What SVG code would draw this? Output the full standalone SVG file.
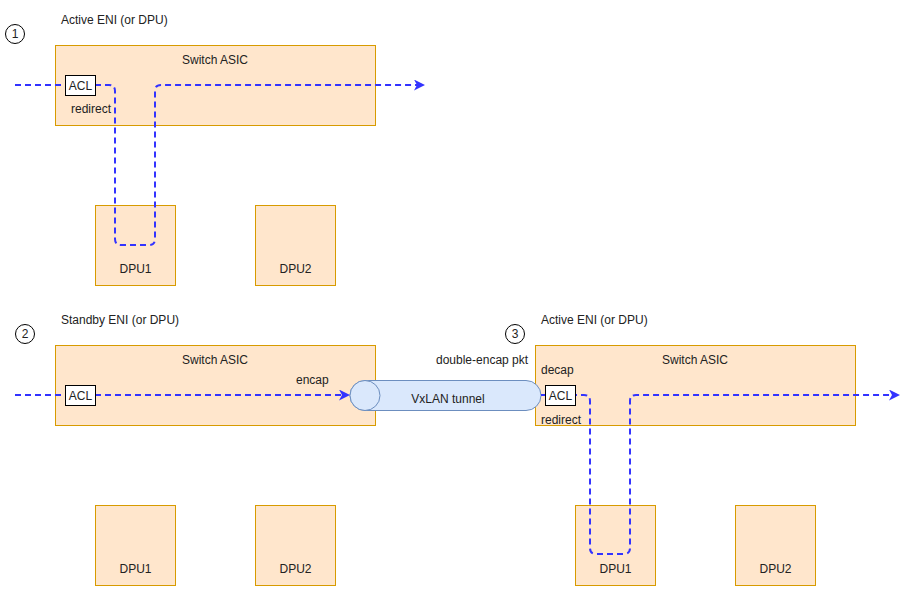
<svg xmlns="http://www.w3.org/2000/svg" width="915" height="591" viewBox="0 0 915 591">
  <style>
    text { font-family: "Liberation Sans", Arial, Helvetica, sans-serif; font-size: 12px; fill: #222; }
    .mid { text-anchor: middle; }
    .asic, .dpu { fill: #ffe6cc; stroke: #d79b00; stroke-width: 1; }
    .acl { fill: #ffffff; stroke: #000000; stroke-width: 1; }
    .step { fill: #ffffff; stroke: #000000; stroke-width: 1; }
    .flow { fill: none; stroke: #3333ff; stroke-width: 2; stroke-dasharray: 6 4; }
    .tube { fill: #dae8fc; stroke: #6c8ebf; stroke-width: 1; }
  </style>
  <defs>
    <marker id="arrow" markerUnits="userSpaceOnUse" markerWidth="12" markerHeight="12" refX="3" refY="5.5" orient="auto">
      <path d="M0,0 L11,5.5 L0,11 L3,5.5 Z" fill="#3333ff"/>
    </marker>
  </defs>

  <rect width="915" height="591" fill="#ffffff"/>

  <!-- Scenario 1: active ENI -->
  <g id="step1"><circle class="step" cx="15" cy="34" r="9.5"/><text class="mid" x="15" y="38">1</text></g>
  <g id="title1"><text x="61" y="24">Active ENI (or DPU)</text></g>
  <g id="asic1"><rect class="asic" x="55.5" y="45.5" width="320" height="80"/><text class="mid" x="215" y="64">Switch ASIC</text><text x="71" y="113">redirect</text></g>
  <g id="dpu1a"><rect class="dpu" x="95.5" y="205.5" width="80" height="80"/><text class="mid" x="135.5" y="273">DPU1</text></g>
  <g id="dpu2a"><rect class="dpu" x="255.5" y="205.5" width="80" height="80"/><text class="mid" x="295.5" y="273">DPU2</text></g>

  <!-- Scenario 2: standby ENI -->
  <g id="step2"><circle class="step" cx="25" cy="334" r="9.5"/><text class="mid" x="25" y="338">2</text></g>
  <g id="title2"><text x="61" y="324">Standby ENI (or DPU)</text></g>
  <g id="asic2"><rect class="asic" x="55.5" y="345.5" width="320" height="80"/><text class="mid" x="215" y="364">Switch ASIC</text><text x="296" y="384">encap</text></g>
  <g id="dpu1b"><rect class="dpu" x="95.5" y="505.5" width="80" height="80"/><text class="mid" x="135.5" y="573">DPU1</text></g>
  <g id="dpu2b"><rect class="dpu" x="255.5" y="505.5" width="80" height="80"/><text class="mid" x="295.5" y="573">DPU2</text></g>

  <!-- Scenario 3: active ENI across the tunnel -->
  <g id="step3"><circle class="step" cx="515" cy="334" r="9.5"/><text class="mid" x="515" y="338">3</text></g>
  <g id="title3"><text x="541" y="324">Active ENI (or DPU)</text></g>
  <g id="pktlabel"><text x="436" y="364">double-encap pkt</text></g>
  <g id="asic3"><rect class="asic" x="535.5" y="345.5" width="320" height="80"/><text class="mid" x="695" y="364">Switch ASIC</text><text x="541" y="374">decap</text><text x="541" y="424">redirect</text></g>
  <g id="dpu1c"><rect class="dpu" x="575.5" y="505.5" width="80" height="80"/><text class="mid" x="615.5" y="573">DPU1</text></g>
  <g id="dpu2c"><rect class="dpu" x="735.5" y="505.5" width="80" height="80"/><text class="mid" x="775.5" y="573">DPU2</text></g>

  <!-- VxLAN tunnel (horizontal cylinder) -->
  <g id="tunnel">
    <path class="tube" d="M365,380.5 H526 A15,15 0 0 1 526,410.5 H365 A15,15 0 0 1 365,380.5 Z"/>
    <ellipse class="tube" cx="365" cy="395.5" rx="15" ry="15"/>
    <text class="mid" x="448" y="403">VxLAN tunnel</text>
  </g>

  <!-- Packet paths -->
  <g id="connectors">
    <path class="flow" d="M15,85 H109 Q115,85 115,91 V239 Q115,245 121,245 H149 Q155,245 155,239 V91 Q155,85 161,85 H417" marker-end="url(#arrow)"/>
    <path class="flow" d="M15,395 H342" marker-end="url(#arrow)"/>
    <path class="flow" d="M541,395 H584 Q590,395 590,401 V548 Q590,554 596,554 H624 Q630,554 630,548 V401 Q630,395 636,395 H892" marker-end="url(#arrow)"/>
  </g>

  <!-- ACL blocks sit on top of the paths -->
  <g id="acl1"><rect class="acl" x="65.5" y="75.5" width="30" height="20"/><text class="mid" x="80.5" y="90">ACL</text></g>
  <g id="acl2"><rect class="acl" x="65.5" y="385.5" width="30" height="20"/><text class="mid" x="80.5" y="400">ACL</text></g>
  <g id="acl3"><rect class="acl" x="545.5" y="385.5" width="30" height="20"/><text class="mid" x="560.5" y="400">ACL</text></g>
</svg>
